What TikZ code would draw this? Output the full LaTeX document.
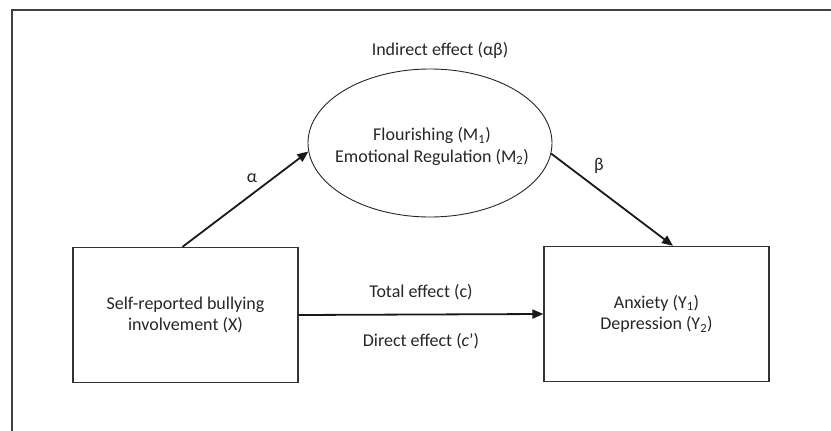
\documentclass[tikz,border=0pt]{standalone}
\usepackage{fontspec}
\setmainfont{Carlito}
\usetikzlibrary{shapes.geometric,arrows.meta,calc}

\begin{document}
\begin{tikzpicture}[
            x=1pt, y=-1pt, % pixel-like units, y going down
            every node/.style={font=\fontsize{18}{21.5}\selectfont, text=black!85, align=center},
            varbox/.style={draw=black!80, line width=1.3pt, minimum width=225pt, minimum height=135pt, inner sep=0pt},
            effect/.style={-{Triangle[length=11pt,width=9pt]}, line width=1.8pt, black!90}
        ]

            % 1. Canvas and the outer frame (cut off at right and bottom)
            \useasboundingbox (0,0) rectangle (831,431);
            \draw[line width=2pt, black!75] (12,431) -- (12,10) -- (831,10);

            % 2. Predictor, mediators, outcomes
            \node[varbox] (xbox) at (185.5,315) {Self-reported bullying\\involvement (X)};
            \node[varbox] (ybox) at (656.5,314) {Anxiety (Y\textsubscript{1})\\Depression (Y\textsubscript{2})};
            \node[draw=black!85, line width=0.9pt, ellipse, minimum width=244pt, minimum height=148pt, inner sep=0pt] (med) at (430,143) {};
            \node (medtext) at (432,146.5) {Flourishing (M\textsubscript{1})\\Emotional Regulation (M\textsubscript{2})};

            % 3. Paths and their labels
            \draw[effect] ($(xbox.north)+(-3,0)$) -- (med.184);
            \draw[effect] (med.355) -- ($(ybox.north)+(16.5,0)$);
            \draw[effect] (xbox.east) -- (ybox.west);

            \node (alphalab) at (252,178) {α};
            \node (betalab) at (599,166) {β};
            \node (indirect) at (440,50) {Indirect effect (αβ)};
            \node (total) at (421,292) {Total effect (c)};
            \node (direct) at (421,341) {Direct effect (\textit{c}’)};

        \end{tikzpicture}
\end{document}
